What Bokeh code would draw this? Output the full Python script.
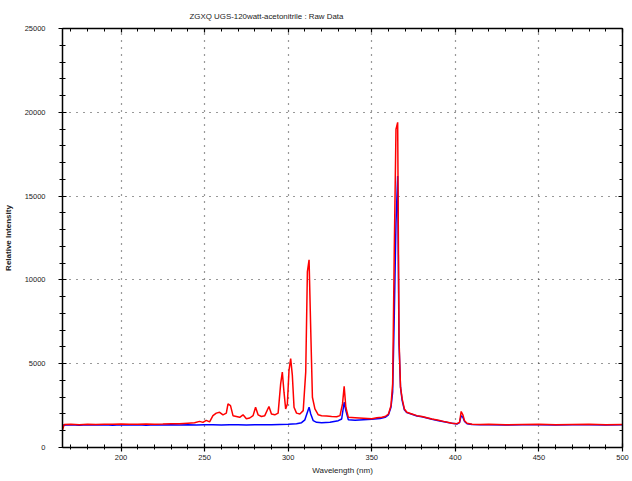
from bokeh.plotting import figure
from bokeh.models import Range1d, LinearAxis, FixedTicker, CustomLabelingPolicy
from bokeh.embed import file_html
from bokeh.resources import INLINE

title_text = "ZGXQ  UGS-120watt-acetonitrile : Raw Data"
x_label = "Wavelength (nm)"
y_label = "Relative Intensity"

x_ticks = [200, 250, 300, 350, 400, 450, 500]
y_ticks = [0, 5000, 10000, 15000, 20000, 25000]

red_wl = [165, 166, 170, 175, 180, 185, 190, 195, 200, 205, 210, 215, 220, 225, 230,
          235, 240, 244, 247, 249, 251, 253, 255, 257, 259, 261, 263, 264, 265.5, 267,
          269, 271, 273, 275, 277, 279, 280.5, 282, 284, 286, 288.5, 290, 292, 294,
          295.5, 296.5, 297.5, 298.5, 299.5, 300.5, 301.5, 302.5, 303.5, 305, 307, 309,
          310.5, 311.5, 312.5, 313.5, 314.5, 316, 318, 320, 323, 326, 329, 331, 332.5,
          333.5, 334.5, 336, 340, 345, 350, 353, 356, 358, 360, 361.5, 362.5, 363.5,
          364.5, 365.5, 366.3, 367.2, 368.2, 369.5, 371, 374, 377, 380, 383, 386, 390,
          394, 398, 401, 402.5, 403.5, 404.5, 405.5, 407, 410, 415, 420, 430, 440, 450,
          460, 470, 480, 490, 500]
red_val = [1050, 1370, 1380, 1360, 1390, 1370, 1390, 1380, 1400, 1380, 1390, 1400, 1390,
           1400, 1420, 1410, 1450, 1480, 1560, 1500, 1620, 1530, 1900, 2050, 2100, 1950,
           2050, 2600, 2500, 1900, 1850, 1800, 1950, 1720, 1760, 1900, 2400, 1950, 1850,
           1900, 2450, 2000, 1950, 2050, 3800, 4500, 3300, 2300, 2600, 4600, 5300, 4300,
           2400, 2050, 2000, 2200, 4500, 10500, 11200, 7000, 3000, 2300, 1950, 1900, 1880,
           1850, 1830, 1900, 2600, 3650, 2400, 1800, 1780, 1750, 1720, 1770, 1800, 1850,
           2000, 2500, 3800, 12000, 19000, 19400, 6500, 3600, 2900, 2300, 2100, 2000, 1900,
           1850, 1780, 1700, 1620, 1530, 1450, 1420, 1500, 2150, 1950, 1600, 1450, 1390,
           1370, 1380, 1360, 1370, 1380, 1360, 1370, 1380, 1360, 1370]

blue_wl = [165, 170, 175, 180, 185, 190, 195, 200, 205, 210, 215, 220, 225, 230, 235, 240,
           245, 250, 255, 260, 265, 270, 275, 280, 285, 290, 295, 300, 305, 308, 310,
           311.5, 312.5, 313.5, 315, 317, 320, 325, 330, 332, 333.5, 334.5, 336, 340, 345,
           350, 355, 358, 360, 361.5, 362.5, 363.5, 364.5, 365.5, 366.3, 367.2, 368.2,
           369.5, 371, 374, 377, 380, 383, 386, 390, 394, 398, 401, 402.5, 403.5, 404.5,
           405.5, 407, 410, 415, 420, 430, 440, 450, 460, 470, 480, 490, 500]
blue_val = [1330, 1350, 1330, 1360, 1340, 1350, 1330, 1360, 1340, 1350, 1330, 1350, 1340,
            1360, 1340, 1350, 1340, 1360, 1350, 1340, 1360, 1350, 1340, 1360, 1350, 1360,
            1370, 1380, 1420, 1480, 1650, 2100, 2400, 2000, 1600, 1500, 1480, 1500, 1600,
            1700, 2700, 2200, 1650, 1620, 1660, 1690, 1730, 1800, 1950, 2400, 3300, 8000,
            13400, 16200, 6200, 3600, 2800, 2250, 2080, 1980, 1880, 1830, 1760, 1690, 1600,
            1520, 1440, 1400, 1480, 1900, 1800, 1550, 1420, 1370, 1350, 1360, 1340, 1350,
            1360, 1340, 1350, 1360, 1340, 1350]

FONT = "Liberation Sans"

p = figure(frame_width=560, frame_height=419, x_range=Range1d(165, 500), y_range=Range1d(0, 25000),
           output_backend="svg", toolbar_location=None,
           min_border_left=0, min_border_right=0, min_border_top=0, min_border_bottom=0)

p.title.text = "\n" + title_text
p.title.align = "left"
p.title.offset = 127
p.title.standoff = 0
p.title.padding = 0
p.title.text_font = FONT
p.title.text_font_size = "7.9px"
p.title.text_font_style = "normal"
p.title.text_color = "#222222"

p.line(blue_wl, blue_val, line_color="#0000ff", line_width=1.5)
p.line(red_wl, red_val, line_color="#ff0000", line_width=1.5)

xt = FixedTicker(ticks=x_ticks, minor_ticks=list(range(170, 501, 10)))
yt = FixedTicker(ticks=y_ticks, minor_ticks=list(range(0, 25001, 1000)))

for ax in p.xaxis:
    ax.ticker = xt
for ax in p.yaxis:
    ax.ticker = yt

def style(ax):
    ax.axis_line_color = "black"
    ax.axis_line_width = 1.5
    ax.major_tick_line_color = "black"
    ax.minor_tick_line_color = "black"
    ax.major_tick_line_width = 1.2
    ax.minor_tick_line_width = 1
    ax.major_label_text_font = FONT
    ax.major_label_text_font_size = "7.5px"
    ax.major_label_text_color = "#222222"
    ax.axis_label_text_font = FONT
    ax.axis_label_text_font_size = "8px"
    ax.axis_label_text_font_style = "normal"
    ax.axis_label_text_color = "#222222"

xa = p.xaxis[0]
style(xa)
xa.axis_label = x_label
xa.major_tick_in = 4
xa.major_tick_out = 4
xa.minor_tick_in = 3
xa.minor_tick_out = 2
xa.major_label_standoff = 3
xa.axis_label_standoff = 3

ya = p.yaxis[0]
style(ya)
ya.axis_label = y_label
ya.axis_label_text_font_style = "bold"
ya.major_tick_in = 4
ya.major_tick_out = 4
ya.minor_tick_in = 3
ya.minor_tick_out = 3
ya.major_label_standoff = 13
ya.axis_label_standoff = 9
ya.major_label_orientation = "horizontal"

no_labels = CustomLabelingPolicy(code="""
    for (const i of indices) { indices.unset(i) }
    return indices
""")

top = LinearAxis(ticker=xt)
style(top)
top.major_tick_in = 4
top.major_tick_out = 0
top.minor_tick_in = 3
top.minor_tick_out = 0
top.major_label_policy = no_labels
top.major_label_standoff = 0
p.add_layout(top, "above")

right = LinearAxis(ticker=yt)
style(right)
right.major_tick_in = 4
right.major_tick_out = 0
right.minor_tick_in = 3
right.minor_tick_out = 0
right.major_label_policy = no_labels
right.major_label_standoff = 0
p.add_layout(right, "right")

p.xgrid.ticker = FixedTicker(ticks=[200, 250, 300, 350, 400, 450])
p.ygrid.ticker = FixedTicker(ticks=[5000, 10000, 15000, 20000])
for g in (p.xgrid[0], p.ygrid[0]):
    g.grid_line_color = "#333333"
    g.grid_line_dash = "1 6"
    g.grid_line_width = 1.2

p.outline_line_color = "black"
p.background_fill_color = "white"
p.border_fill_color = "white"

open("out.html", "w").write(file_html(p, INLINE))
